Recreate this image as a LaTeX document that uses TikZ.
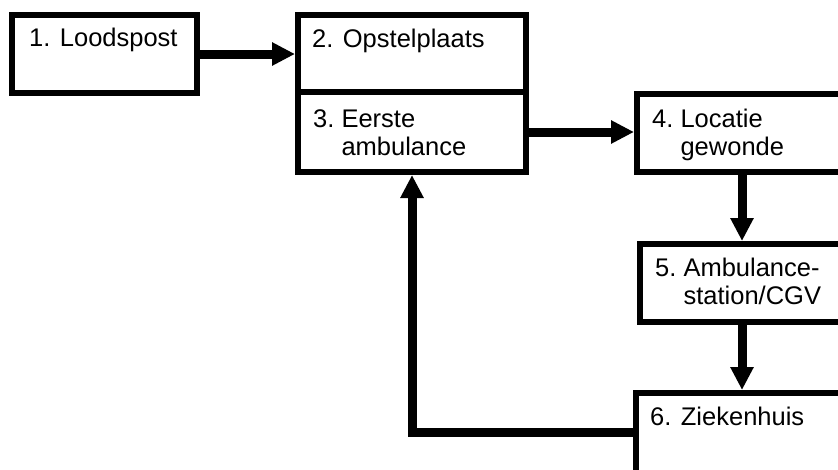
\documentclass[tikz,border=0pt]{standalone}
\usepackage{fontspec}
\setmainfont{Liberation Sans}
\usetikzlibrary{arrows.meta}

\tikzset{
  blok/.style={draw, line width=6pt, rectangle, inner sep=0pt, anchor=north west},
  pijl/.style={line width=9pt, -{Triangle[width=22pt,length=23pt]}},
  tekst/.style={anchor=base west, inner sep=0pt, font=\fontsize{25.5pt}{28pt}\selectfont},
}

\begin{document}
\begin{tikzpicture}[x=1pt,y=1pt,yscale=-1,xscale=1]
\path[use as bounding box, clip] (0,0) rectangle (838,469);

% blokken
\node[blok, minimum width=185pt, minimum height=78pt] (loods) at (9,12) {};
\node[blok, minimum width=228pt, minimum height=77pt] (opstel) at (295,12) {};
\node[blok, minimum width=228pt, minimum height=80pt] (eerste) at (295,89) {};
\node[blok, minimum width=215pt, minimum height=78pt] (locatie) at (634,91) {};
\node[blok, minimum width=215pt, minimum height=78pt] (station) at (637,241) {};
\node[blok, minimum width=215pt, minimum height=90pt] (zieken) at (633,390) {};

% teksten
\node[tekst] (t1) at (29,46) {1. Loodspost};
\node[tekst] (t2) at (312,47) {2. Opstelplaats};
\node[tekst] (t3) at (313,127) {\begin{tabular}[t]{@{}l@{\ }l@{}}3. & Eerste\\ & ambulance\end{tabular}};
\node[tekst] (t4) at (652,127) {\begin{tabular}[t]{@{}l@{\ }l@{}}4. & Locatie\\ & gewonde\end{tabular}};
\node[tekst] (t5) at (655,276) {\begin{tabular}[t]{@{}l@{\ }l@{}}5. & Ambulance-\\ & station/CGV\end{tabular}};
\node[tekst] (t6) at (650,425) {6. Ziekenhuis};

% pijlen
\draw[pijl] (loods.east) -- (loods.east -| opstel.west);
\draw[pijl] (eerste.east) -- (eerste.east -| locatie.west);
\draw[pijl] ([xshift=108pt]locatie.south west) coordinate (a45) -- (a45 |- station.north);
\draw[pijl] ([xshift=105pt]station.south west) coordinate (a56) -- (a56 |- zieken.north);
\draw[pijl] ([yshift=42pt]zieken.north west) -| (eerste.south);

\end{tikzpicture}
\end{document}
